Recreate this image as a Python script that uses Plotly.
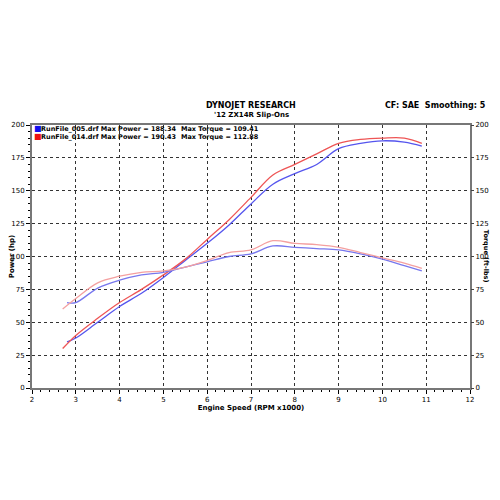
import plotly.graph_objects as go

# Engine speed (RPM x1000)
rpm_005 = [2.8, 3.0, 3.5, 4.0, 4.5, 5.0, 5.5, 6.0, 6.5, 7.0, 7.5, 8.0, 8.5, 9.0, 9.5, 10.0, 10.5, 10.9]
rpm_014 = [2.7, 3.0, 3.5, 4.0, 4.5, 5.0, 5.5, 6.0, 6.5, 7.0, 7.5, 8.0, 8.5, 9.0, 9.5, 10.0, 10.5, 10.9]

power_005 = [35, 38, 50, 62, 72, 84, 97, 110, 124, 140, 155, 163, 170, 182, 186, 188, 187, 184]
power_014 = [30, 40, 53, 65, 75, 86, 98, 113, 128, 145, 162, 170, 178, 186, 189, 190, 190, 186]
torque_005 = [65, 65, 76, 82, 86, 88, 92, 96, 100, 102, 108, 107, 106, 105, 102, 98, 93, 89]
torque_014 = [60, 68, 80, 85, 88, 89, 92, 97, 103, 105, 112, 110, 109, 107, 103, 99, 95, 91]

blue = "#5555ee"
red = "#ee5555"
pink = "#f4a0a0"
blue_t = "#7777ee"

fig = go.Figure()
fig.add_trace(go.Scatter(x=rpm_005, y=power_005, mode="lines", line=dict(color=blue, width=1.3, shape="spline")))
fig.add_trace(go.Scatter(x=rpm_014, y=power_014, mode="lines", line=dict(color=red, width=1.3, shape="spline")))
fig.add_trace(go.Scatter(x=rpm_005, y=torque_005, mode="lines", line=dict(color=blue_t, width=1.3, shape="spline")))
fig.add_trace(go.Scatter(x=rpm_014, y=torque_014, mode="lines", line=dict(color=pink, width=1.3, shape="spline")))
fig.add_trace(go.Scatter(x=[None], y=[None], yaxis="y2", showlegend=False))

axis_font = dict(family="DejaVu Sans", size=7, color="black")
grid = dict(showgrid=True, gridcolor="#333333", griddash="dot", gridwidth=1, zeroline=False,
            ticks="outside", ticklen=4, tickcolor="black", tickfont=axis_font, automargin=False,
            showline=True, linecolor="#777777", linewidth=2, mirror=True,
            minor=dict(ticks="outside", ticklen=2, tickcolor="black", showgrid=False))

fig.update_layout(
    width=500, height=500, showlegend=False,
    paper_bgcolor="white", plot_bgcolor="white",
    margin=dict(l=24, r=38, t=117, b=120),
    font=dict(family="DejaVu Sans", size=7, color="black"),
    xaxis=dict(range=[2, 12], dtick=1, **grid,
               title=dict(text="<b>Engine Speed (RPM x1000)</b>", font=dict(size=7), standoff=2)),
    yaxis=dict(range=[0, 200], dtick=25, **grid,
               title=dict(text="<b>Power (hp)</b>", font=dict(size=7), standoff=2)),
    yaxis2=dict(range=[0, 200], dtick=25, overlaying="y", side="right", showgrid=False,
                tickfont=axis_font, ticks="outside", ticklen=3, automargin=False),
)

fig.add_annotation(x=1.038, y=0.5, xref="paper", yref="paper", showarrow=False, text="<b>Torque (ft-lbs)</b>",
                   font=dict(size=6.5), textangle=90, xanchor="center")
fig.add_annotation(x=0.5, y=1.05, xref="paper", yref="paper", showarrow=False, text="<b>DYNOJET RESEARCH</b>",
                   font=dict(size=8), yanchor="bottom")
fig.add_annotation(x=0.5, y=1.015, xref="paper", yref="paper", showarrow=False, text="<b>'12 ZX14R Slip-Ons</b>",
                   font=dict(size=7), yanchor="bottom")
fig.add_annotation(x=1.04, y=1.05, xref="paper", yref="paper", showarrow=False,
                   text="<b>CF: SAE  Smoothing: 5</b>", font=dict(size=8), xanchor="right", yanchor="bottom")

legend_rows = [
    ("RunFile_005.drf Max Power = 188.34", "Max Torque = 109.41", "#1010ee", 197),
    ("RunFile_014.drf Max Power = 190.43", "Max Torque = 112.88", "#ee1010", 191),
]
for name, torque, col, yy in legend_rows:
    fig.add_annotation(x=2.0, y=yy, showarrow=False, text="■", font=dict(size=8, color=col), xanchor="left")
    fig.add_annotation(x=2.15, y=yy, showarrow=False, text="<b>" + name + "</b>", font=dict(size=6.5), xanchor="left")
    fig.add_annotation(x=5.35, y=yy, showarrow=False, text="<b>" + torque + "</b>", font=dict(size=6.5), xanchor="left")

fig.write_html("out.html")
